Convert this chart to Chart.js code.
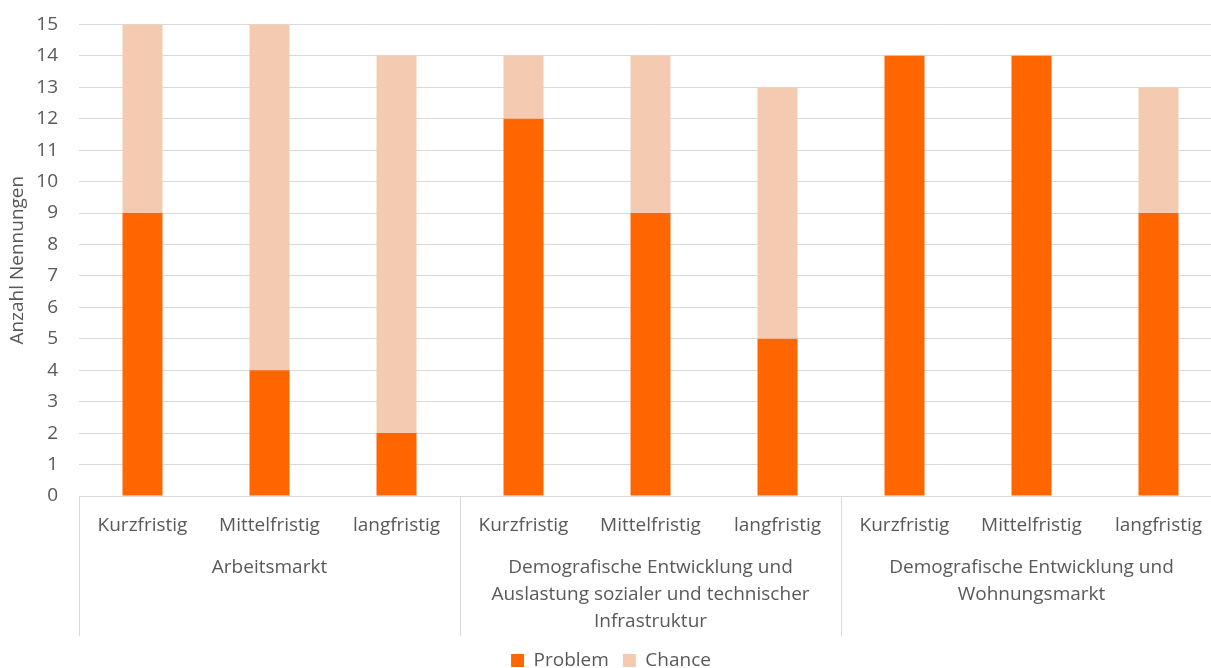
<!DOCTYPE html>
<html><head><meta charset="utf-8">
<script src="https://cdn.jsdelivr.net/npm/chart.js@4/dist/chart.umd.min.js"></script>
<style>html,body{margin:0;padding:0;overflow:hidden;background:#fff}#wrap{width:1222px;height:688px;position:relative;top:-8px}</style>
</head><body><div id="wrap"><canvas id="c"></canvas></div>
<script>
const categories = ['Kurzfristig','Mittelfristig','langfristig','Kurzfristig','Mittelfristig','langfristig','Kurzfristig','Mittelfristig','langfristig'];
const groups = [
  ['Arbeitsmarkt'],
  ['Demografische Entwicklung und','Auslastung sozialer und technischer','Infrastruktur'],
  ['Demografische Entwicklung und','Wohnungsmarkt']
];
const problem = [9, 4, 2, 12, 9, 5, 14, 14, 9];
const chance = [6, 11, 12, 2, 5, 8, 0, 0, 4];
const yTicks = [0,1,2,3,4,5,6,7,8,9,10,11,12,13,14,15];

const FONT = '"Open Sans", sans-serif';
const FS = 19;
const TXT = '#595959';
const GRID = '#D9D9D9';

const separators = {
  id: 'separators',
  afterDraw(chart) {
    const x = chart.scales.x, ctx = chart.ctx;
    const top = chart.chartArea.bottom, bottom = top + 140;
    ctx.save();
    ctx.strokeStyle = GRID; ctx.lineWidth = 1;
    for (let g = 0; g <= groups.length; g++) {
      const px = Math.round(x.getPixelForValue(g * 3 - 0.5)) + 0.5;
      ctx.beginPath(); ctx.moveTo(px, top); ctx.lineTo(px, bottom); ctx.stroke();
    }
    ctx.restore();
  }
};

new Chart(document.getElementById('c'), {
  type: 'bar',
  data: {
    labels: categories,
    datasets: [
      { label: 'Problem', data: problem, backgroundColor: '#FF6600', stack: 's' },
      { label: 'Chance', data: chance, backgroundColor: '#F4CBB0', stack: 's' }
    ]
  },
  options: {
    responsive: true, maintainAspectRatio: false, animation: false,
    layout: { padding: { top: 7, left: 0, right: 0, bottom: 0 } },
    datasets: { bar: { categoryPercentage: 1, barPercentage: 0.315 } },
    plugins: {
      legend: { position: 'bottom', labels: { font: { family: FONT, size: FS }, color: TXT, boxWidth: 13, boxHeight: 13, padding: 14 } },
      tooltip: { enabled: false }
    },
    scales: {
      x: {
        stacked: true,
        grid: { display: false },
        border: { display: true, color: GRID },
        ticks: { font: { family: FONT, size: FS }, color: TXT, maxRotation: 0, autoSkip: false, padding: 10 },
        afterFit(s) { s.height = 50; }
      },
      x2: {
        type: 'category', position: 'bottom', labels: groups, offset: true,
        grid: { display: false }, border: { display: false },
        ticks: { font: { family: FONT, size: FS, lineHeight: 1.42 }, color: TXT, maxRotation: 0, autoSkip: false, padding: 0 },
        afterFit(s) { s.height = 91; }
      },
      y: {
        stacked: true, min: 0, max: 15,
        afterBuildTicks(s) { s.ticks = yTicks.map(v => ({ value: v })); },
        grid: { color: GRID, drawTicks: false },
        border: { display: false },
        ticks: { font: { family: FONT, size: FS }, color: TXT, padding: 21 },
        title: { display: true, text: 'Anzahl Nennungen', font: { family: FONT, size: FS }, color: TXT, padding: { top: 6, bottom: 0 } },
        afterFit(s) { s.width = 79; }
      }
    }
  },
  plugins: [separators]
});
</script></body></html>
